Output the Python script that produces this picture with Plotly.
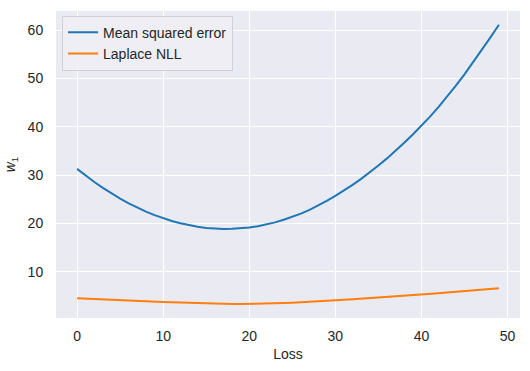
import plotly.graph_objects as go

x_vals = list(range(50))

mse = [31.27, 29.88, 28.56, 27.34, 26.19, 25.13, 24.15, 23.25, 22.44, 21.71,
       21.06, 20.50, 20.02, 19.62, 19.30, 19.07, 18.92, 18.85, 18.87, 18.97,
       19.16, 19.42, 19.78, 20.21, 20.74, 21.34, 22.03, 22.80, 23.66, 24.65,
       25.70, 26.80, 27.98, 29.22, 30.55, 31.96, 33.45, 35.02, 36.68, 38.40,
       40.20, 42.10, 44.12, 46.26, 48.50, 50.85, 53.30, 55.85, 58.45, 61.10]

laplace = [4.50, 4.41, 4.32, 4.23, 4.15, 4.07, 3.99, 3.92, 3.85, 3.79,
           3.73, 3.66, 3.59, 3.53, 3.47, 3.42, 3.38, 3.34, 3.32, 3.31,
           3.32, 3.35, 3.39, 3.44, 3.50, 3.57, 3.65, 3.74, 3.85, 3.97,
           4.10, 4.21, 4.32, 4.43, 4.55, 4.67, 4.79, 4.91, 5.03, 5.15,
           5.28, 5.41, 5.55, 5.69, 5.83, 5.97, 6.12, 6.27, 6.42, 6.58]

series_names = ["Mean squared error", "Laplace NLL"]
x_ticks = [0, 10, 20, 30, 40, 50]
y_ticks = [10, 20, 30, 40, 50, 60]
x_label = "Loss"
y_label = "<i>w</i><sub>1</sub>"

font_family = "Liberation Sans, Arial, sans-serif"
text_color = "#262626"

fig = go.Figure()
fig.add_trace(go.Scatter(x=x_vals, y=mse, mode="lines", name=series_names[0],
                         line=dict(color="#1f77b4", width=2)))
fig.add_trace(go.Scatter(x=x_vals, y=laplace, mode="lines", name=series_names[1],
                         line=dict(color="#ff7f0e", width=2)))

fig.update_layout(
    width=530, height=371,
    margin=dict(l=56, r=10, t=11, b=53, autoexpand=False),
    paper_bgcolor="white",
    plot_bgcolor="#eaeaf2",
    font=dict(family=font_family, size=14, color=text_color),
    showlegend=True,
    legend=dict(x=0.013, y=0.985, xanchor="left", yanchor="top",
                bgcolor="rgba(238,238,244,0.9)", bordercolor="#d0d0d6", borderwidth=1,
                font=dict(size=14, color=text_color),
                itemwidth=30, tracegroupgap=0),
    xaxis=dict(range=[-2.45, 51.45], tickvals=x_ticks, showgrid=True, automargin=False,
               gridcolor="white", gridwidth=1.2, zeroline=False, showline=False,
               ticks="outside", ticklen=5, tickcolor="rgba(0,0,0,0)",
               tickfont=dict(size=14),
               title=dict(text=x_label, standoff=6, font=dict(size=14))),
    yaxis=dict(range=[0.42, 63.95], tickvals=y_ticks, showgrid=True, automargin=False,
               gridcolor="white", gridwidth=1.2, zeroline=False, showline=False,
               ticks="outside", ticklen=9, tickcolor="rgba(0,0,0,0)",
               tickfont=dict(size=14),
               title=dict(text=y_label, standoff=8, font=dict(size=14))),
)

fig.write_html("out.html", config={"displayModeBar": False},
               post_script="document.body.style.margin='0';document.body.style.padding='0';")
